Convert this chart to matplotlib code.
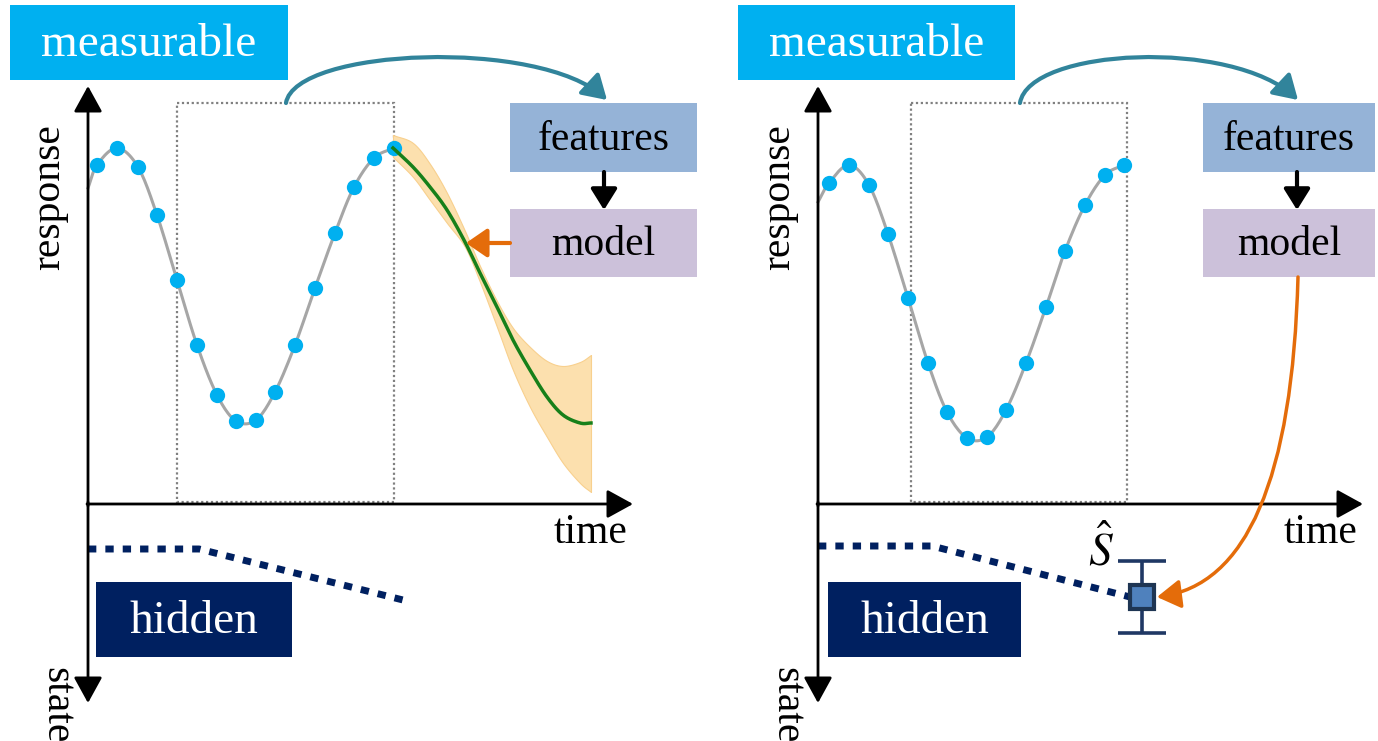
import matplotlib
matplotlib.use("Agg")
import matplotlib.pyplot as plt
import numpy as np
from matplotlib.patches import Rectangle, FancyArrowPatch
from matplotlib.path import Path

plt.rcParams['font.family'] = ['Liberation Serif', 'DejaVu Serif']
plt.rcParams['mathtext.fontset'] = 'stix'

# sampled response (left panel: forecast, right panel: state estimate)
t_left = [97, 117, 138, 157, 177, 197, 217, 236, 256, 275, 295, 315, 335, 354, 374, 394]
r_left = [165, 148, 167, 215, 280, 345, 395, 421, 420, 392, 345, 288, 233, 187, 158, 148]
t_right = [829, 849, 869, 888, 908, 928, 947, 967, 987, 1006, 1026, 1046, 1065, 1085, 1105, 1124]
r_right = [183, 165, 185, 234, 298, 363, 412, 438, 437, 410, 363, 307, 251, 205, 175, 165]

# forecast mean and uncertainty band
t_fc = [393, 413, 430, 447, 465, 480, 497, 513, 530, 547, 563, 580, 591]
fc_mean = [148, 167, 187, 210, 242, 273, 307, 340, 370, 397, 415, 423, 423]
fc_upper = [135, 143, 164, 193, 231, 266, 301, 328, 347, 361, 366, 362, 355]
fc_lower = [157, 177, 200, 223, 247, 282, 327, 370, 407, 437, 463, 483, 492]

# hidden state path
state_left_t = [88, 199, 403]
state_left_s = [549, 549, 600]
state_right_t = [818, 932, 1130]
state_right_s = [546, 546, 597]

# state estimate with error bar
s_hat_t = 1142
s_hat = 597
s_hat_err = 36

BLUE = '#00B0F0'
NAVY = '#002060'
FEAT = '#95B3D7'
MODEL = '#CCC1DA'
ORANGE = '#E46C0A'
TEAL = '#31849B'


def smooth(x, y, n=12):
    # Catmull-Rom pass through the points for a smooth guide line
    x = np.asarray(x, float)
    y = np.asarray(y, float)
    px = np.concatenate([[2 * x[0] - x[1]], x, [2 * x[-1] - x[-2]]])
    py = np.concatenate([[2 * y[0] - y[1]], y, [2 * y[-1] - y[-2]]])
    xs, ys = [], []
    s = np.linspace(0, 1, n, endpoint=False)
    for i in range(1, len(px) - 2):
        for arr, out in ((px, xs), (py, ys)):
            p0, p1, p2, p3 = arr[i - 1], arr[i], arr[i + 1], arr[i + 2]
            out.extend(0.5 * (2 * p1 + (-p0 + p2) * s
                              + (2 * p0 - 5 * p1 + 4 * p2 - p3) * s ** 2
                              + (-p0 + 3 * p1 - 3 * p2 + p3) * s ** 3))
    xs.append(x[-1])
    ys.append(y[-1])
    return np.array(xs), np.array(ys)


def box(ax, x0, y0, x1, y1, color, text, tcolor, size):
    ax.add_patch(Rectangle((x0, y0), x1 - x0, y1 - y0, facecolor=color, edgecolor='none', zorder=2))
    ax.text((x0 + x1) / 2, (y0 + y1) / 2 + 2, text, color=tcolor, fontsize=size,
            ha='center', va='center', zorder=3)


def arrow(ax, p0, p1, color, lw=2.2, hl=0.9, hw=0.6, verts=None):
    style = f'-|>,head_length={hl},head_width={hw}'
    if verts is not None:
        code = Path.CURVE4 if len(verts) == 4 else Path.CURVE3
        codes = [Path.MOVETO] + [code] * (len(verts) - 1)
        a = FancyArrowPatch(path=Path(verts, codes), arrowstyle=style,
                            mutation_scale=16, color=color, lw=lw, zorder=4)
    else:
        a = FancyArrowPatch(p0, p1, arrowstyle=style, mutation_scale=16, color=color,
                            lw=lw, zorder=4, shrinkA=0, shrinkB=0)
    ax.add_patch(a)


fig = plt.figure(figsize=(13.78, 7.41), dpi=100)
ax = fig.add_axes([0, 0, 1, 1])
ax.set_xlim(0, 1378)
ax.set_ylim(741, 0)
ax.axis('off')

for off, tt, rr, y0_curve, st_t, st_s in (
        (0, t_left, r_left, 188, state_left_t, state_left_s),
        (730, t_right, r_right, 202, state_right_t, state_right_s)):
    ox = 88 + off
    # axes: response up, time right, state down
    arrow(ax, (ox, 506), (ox, 86), 'black', lw=2, hl=1.0, hw=0.55)
    arrow(ax, (ox - 1, 504), (633 + off, 504), 'black', lw=2, hl=1.0, hw=0.55)
    arrow(ax, (ox, 502), (ox, 703), 'black', lw=2, hl=1.0, hw=0.55)
    ax.text(591 + off, 533, 'time', fontsize=30, ha='center', va='center')
    ax.text(ox - 39, 197, 'response', fontsize=30, ha='center', va='center', rotation=90)
    ax.text(ox - 32, 705, 'state', fontsize=30, ha='center', va='center', rotation=-90)

    # window of measurements
    ax.add_patch(Rectangle((177 + off + (4 if off else 0), 103),
                           217 - (1 if off else 0), 399, fill=False, edgecolor='#808080',
                           lw=1.6, ls=(0, (1, 1.2)), zorder=1))

    # measured signal
    cx, cy = smooth([ox] + list(tt), [y0_curve] + list(rr))
    ax.plot(cx, cy, color='#A6A6A6', lw=2.2, zorder=2)
    ax.plot(tt, rr, 'o', color=BLUE, ms=11, mec='none', zorder=3)

    # hidden state trace
    ax.plot(st_t, st_s, color=NAVY, lw=5, dashes=(1.2, 1.3), solid_capstyle='butt',
            dash_capstyle='butt', zorder=3)

    box(ax, 10 + off + (-2 if off else 0), 5, 288 + off + (-3 if off else 0), 80, BLUE, 'measurable', 'white', 34)
    box(ax, 96 + off + (2 if off else 0), 582, 292 + off - (1 if off else 0), 657, NAVY, 'hidden', 'white', 34)

# right-hand feature/model boxes
box(ax, 510, 103, 697, 172, FEAT, 'features', 'black', 30)
box(ax, 510, 209, 697, 277, MODEL, 'model', 'black', 30)
box(ax, 1203, 103, 1375, 172, FEAT, 'features', 'black', 30)
box(ax, 1203, 209, 1375, 277, MODEL, 'model', 'black', 30)
arrow(ax, (604, 172), (604, 210), 'black', lw=3, hl=0.8, hw=0.5)
arrow(ax, (1297, 172), (1297, 210), 'black', lw=3, hl=0.8, hw=0.5)

# curved arrows from window to features
arrow(ax, None, None, TEAL, lw=3, hl=0.9, hw=0.55,
      verts=[(286, 103), (295, 48), (540, 38), (607, 100)])
arrow(ax, None, None, TEAL, lw=3, hl=0.9, hw=0.55,
      verts=[(1020, 103), (1029, 48), (1232, 38), (1298, 100)])

# forecast
bx, bu = smooth(t_fc, fc_upper)
_, bl = smooth(t_fc, fc_lower)
ax.fill_between(bx, bu, bl, color='#FCE0AE', edgecolor='#F8D08E', lw=0.8, zorder=2)
fx, fy = smooth(t_fc, fc_mean)
ax.plot(fx, fy, color='#17801A', lw=2.5, zorder=3)
arrow(ax, (510, 243), (466, 243), ORANGE, lw=3, hl=0.8, hw=0.55)

# model -> state estimate
arrow(ax, None, None, ORANGE, lw=2.5, hl=0.9, hw=0.55,
      verts=[(1298, 277), (1290, 580), (1157, 597)])

ax.errorbar([s_hat_t], [s_hat], yerr=[s_hat_err], fmt='none', ecolor='#1F3864',
            elinewidth=2.6, capsize=17, capthick=2.6, zorder=5)
ax.plot([s_hat_t], [s_hat], 's', ms=17, mfc='#4F81BD', mec='#1E3553', mew=3, zorder=6)
ax.text(1101, 551, r'$\hat{S}$', fontsize=34, ha='center', va='center')

fig.savefig('out.png', dpi=100)
